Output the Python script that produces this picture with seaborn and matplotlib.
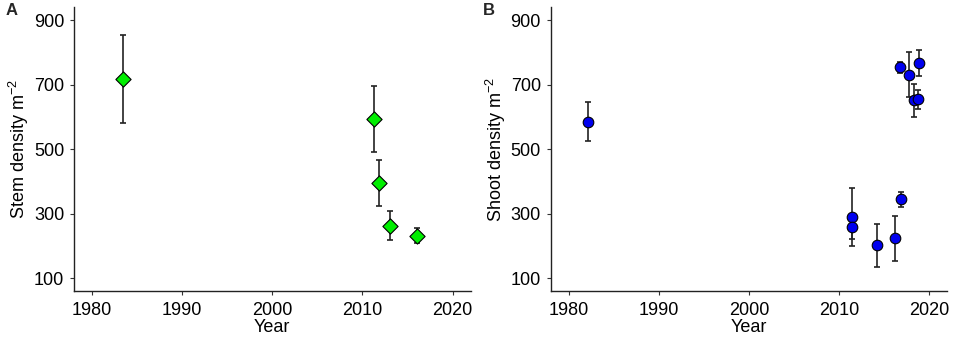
import pandas as pd
import matplotlib
matplotlib.use("Agg")
import matplotlib.pyplot as plt
import seaborn as sns

# Panel A - stem density
anos_a = [1983.4, 2011.3, 2011.8, 2013.0, 2016.0]
stem = [717, 594, 394, 263, 230]
stem_sup = [853, 695, 465, 308, 254]
stem_inf = [582, 492, 324, 219, 208]

# Panel B - shoot density
anos_b = [1982.1, 2011.4, 2011.4, 2014.25, 2016.2, 2016.9, 2016.75, 2017.8, 2018.85, 2018.3, 2018.7]
shoot = [585, 288, 257, 202, 223, 344, 753, 731, 767, 651, 656]
shoot_sup = [645, 378, 292, 269, 294, 367, 769, 801, 807, 703, 684]
shoot_inf = [526, 198, 222, 135, 154, 321, 736, 660, 727, 599, 625]

anos_ticks = [1980, 1990, 2000, 2010, 2020]
dens_ticks = [100, 300, 500, 700, 900]

sns.set_theme(style="ticks")
plt.rcParams["font.family"] = ["Liberation Sans", "DejaVu Sans"]
plt.rcParams["mathtext.fontset"] = "custom"
plt.rcParams["mathtext.rm"] = "Liberation Sans"
plt.rcParams["mathtext.it"] = "Liberation Sans"

fig = plt.figure(figsize=(9.57, 3.38), dpi=100)
ax_a = fig.add_axes([0.0773, 0.139, 0.4145, 0.840])
ax_b = fig.add_axes([0.5754, 0.139, 0.4145, 0.840])


def painel(ax, x, y, sup, inf, marcador, cor, tam, rotulo):
    df = pd.DataFrame({"Year": x, "dens": y, "sup": sup, "inf": inf})
    ax.errorbar(df["Year"], df["dens"],
                yerr=[df["dens"] - df["inf"], df["sup"] - df["dens"]],
                fmt="none", ecolor="#222222", elinewidth=1.2, capsize=2, capthick=1.2, zorder=2)
    sns.scatterplot(data=df, x="Year", y="dens", ax=ax, marker=marcador, color=cor,
                    edgecolor="black", linewidth=0.8, s=tam, zorder=3, legend=False)
    ax.set_xlim(1978, 2022)
    ax.set_ylim(60, 940)
    ax.set_xticks(anos_ticks)
    ax.set_yticks(dens_ticks)
    ax.tick_params(labelsize=13, length=3, width=0.8, color="#333333", labelcolor="black")
    ax.tick_params(axis="x", pad=5)
    ax.tick_params(axis="y", pad=4)
    ax.set_xlabel("Year", fontsize=13, labelpad=0, color="black")
    ax.set_ylabel(rotulo, fontsize=13, labelpad=2, color="black")
    for lado in ["top", "right"]:
        ax.spines[lado].set_visible(False)
    for lado in ["left", "bottom"]:
        ax.spines[lado].set_color("#222222")
        ax.spines[lado].set_linewidth(1.0)
    ax.set_facecolor("white")
    return ax


painel(ax_a, anos_a, stem, stem_sup, stem_inf, "D", "#00ee00", 60, "Stem density m$^{\\mathregular{-2}}$")
painel(ax_b, anos_b, shoot, shoot_sup, shoot_inf, "o", "#0000ee", 58, "Shoot density m$^{\\mathregular{-2}}$")

fig.text(0.006, 0.955, "A", fontsize=12, fontweight="bold")
fig.text(0.505, 0.955, "B", fontsize=12, fontweight="bold")

fig.savefig("out.png", dpi=100, facecolor="white")
plt.close(fig)
